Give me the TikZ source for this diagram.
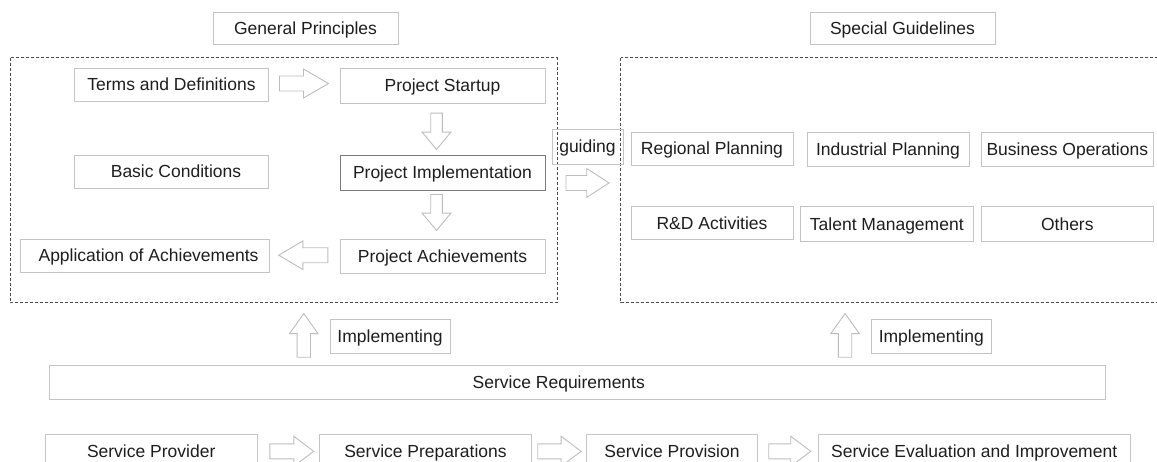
\documentclass[tikz,border=0pt]{standalone}
\usepackage{fontspec}
\setmainfont{Liberation Sans}
\usetikzlibrary{calc}
\definecolor{boxgray}{HTML}{C4C4C4}
\definecolor{darkbox}{HTML}{7A7A7A}
\definecolor{arrgray}{HTML}{BDBDBD}
\definecolor{dashgray}{HTML}{4A4A4A}
\definecolor{txt}{HTML}{1E1E1E}
\tikzset{
  box/.style={draw=boxgray, line width=0.9pt, inner sep=0pt, text=txt,
    font=\fontsize{17.5}{21}\selectfont, anchor=center,
    text height=14pt, text depth=1.5pt},
  darkframe/.style={draw=darkbox},
  dashbox/.style={draw=dashgray, line width=0.9pt, dash pattern=on 3pt off 2pt},
  arrowline/.style={draw=arrgray, fill=white, line width=0.9pt, line join=miter},
  pics/barr/.style n args={4}{code={%
    \draw[arrowline] (0,-#3) -- ({#1-#2},-#3) -- ({#1-#2},-#4) -- (#1,0)
      -- ({#1-#2},#4) -- ({#1-#2},#3) -- (0,#3) -- cycle;}}
}
\begin{document}
\begin{tikzpicture}[x=1pt,y=-1pt]
\useasboundingbox (0,0) rectangle (1157,461);
\clip (0,0) rectangle (1157,461);
\fill[white] (0,0) rectangle (1157,461);

% frames
\draw[dashbox] (10,57.7) rectangle (557,302.7);
\draw[dashbox] (620.7,57.7) rectangle (1162,302.7);

% titles
\node[box, minimum width=185pt, minimum height=31.6pt] (gp) at (305.5,28.5) {General Principles};
\node[box, minimum width=185pt, minimum height=31.6pt] (sg) at (902.5,28.5) {Special Guidelines};

% general principles
\node[box, minimum width=193.6pt, minimum height=32.7pt] (terms) at (171.5,84.7) {Terms and Definitions};
\node[box, minimum width=205pt, minimum height=35pt] (startup) at (442.5,85.5) {Project Startup};
\node[box, minimum width=193.6pt, minimum height=33pt] (basic) at (171.5,171.5) {\hspace*{9pt}Basic Conditions};
\node[box, darkframe, minimum width=205pt, minimum height=35pt] (impl) at (442.5,172.5) {Project Implementation};
\node[box, minimum width=248.6pt, minimum height=32.7pt] (app) at (145,255.7) {\hspace*{7pt}Application of Achievements};
\node[box, minimum width=205pt, minimum height=34.4pt] (ach) at (442.5,256.5) {Project Achievements};

% guiding
\node[box, minimum width=71pt, minimum height=35pt] (guiding) at (587.5,146.5) {guiding};

% special guidelines
\node[box, minimum width=162pt, minimum height=33pt] (reg) at (712,148.5) {Regional Planning};
\node[box, minimum width=162pt, minimum height=34.7pt] (ind) at (888,149.3) {Industrial Planning};
\node[box, minimum width=172.7pt, minimum height=34.7pt] (bus) at (1067.3,149.3) {Business Operations};
\node[box, minimum width=162pt, minimum height=32.3pt] (rd) at (712,222.8) {R\&D Activities};
\node[box, minimum width=173.7pt, minimum height=34.3pt] (tal) at (886.8,223.8) {Talent Management};
\node[box, minimum width=172.7pt, minimum height=34.3pt] (oth) at (1067.3,223.8) {Others};

% implementing labels
\node[box, minimum width=120pt, minimum height=34.4pt] (imp1) at (390,336.5) {Implementing};
\node[box, minimum width=120pt, minimum height=34.4pt] (imp2) at (931.3,336.5) {Implementing};

% service requirements
\node[box, minimum width=1056pt, minimum height=34pt] (req) at (577.3,382.3) {Service Requirements\hspace*{37pt}};

% service chain
\node[box, minimum width=212.3pt, minimum height=34pt] (prov) at (151.2,451.3) {Service Provider};
\node[box, minimum width=212.4pt, minimum height=34pt] (prep) at (425.5,451.3) {Service Preparations};
\node[box, minimum width=170.6pt, minimum height=34pt] (provis) at (672,451.3) {Service Provision};
\node[box, minimum width=312.3pt, minimum height=34pt] (eval) at (974.2,451.3) {Service Evaluation and Improvement};

% block arrows
\pic at ($(terms.east)+(10.7,-1.2)$) {barr={49}{25}{7.5}{14.5}};
\pic[rotate=-90] at ($(startup.south)+(-6,9.7)$) {barr={36.3}{17.3}{5.8}{14.4}};
\pic[rotate=-90] at ($(impl.south)+(-6,4)$) {barr={36}{17.3}{5.8}{14.4}};
\pic[rotate=180] at ($(ach.west)+(-11.7,-1.3)$) {barr={49}{24}{7.5}{14.3}};
\pic at ($(guiding.south)+(-21.5,18.5)$) {barr={43}{22.3}{7.5}{14.5}};
\pic[rotate=90] at ($(imp1.west |- req.north)+(-25.8,-7.6)$) {barr={43.7}{20}{6.7}{14.2}};
\pic[rotate=90] at ($(imp2.west |- req.north)+(-25.8,-7.6)$) {barr={43.7}{20}{6.7}{14.2}};
\pic at ($(prov.east)+(12,0)$) {barr={44}{20}{7.5}{15}};
\pic at ($(prep.east)+(5.6,0)$) {barr={43.4}{20}{7.5}{15}};
\pic at ($(provis.east)+(11,0)$) {barr={42}{20}{7.5}{15}};
\end{tikzpicture}
\end{document}
